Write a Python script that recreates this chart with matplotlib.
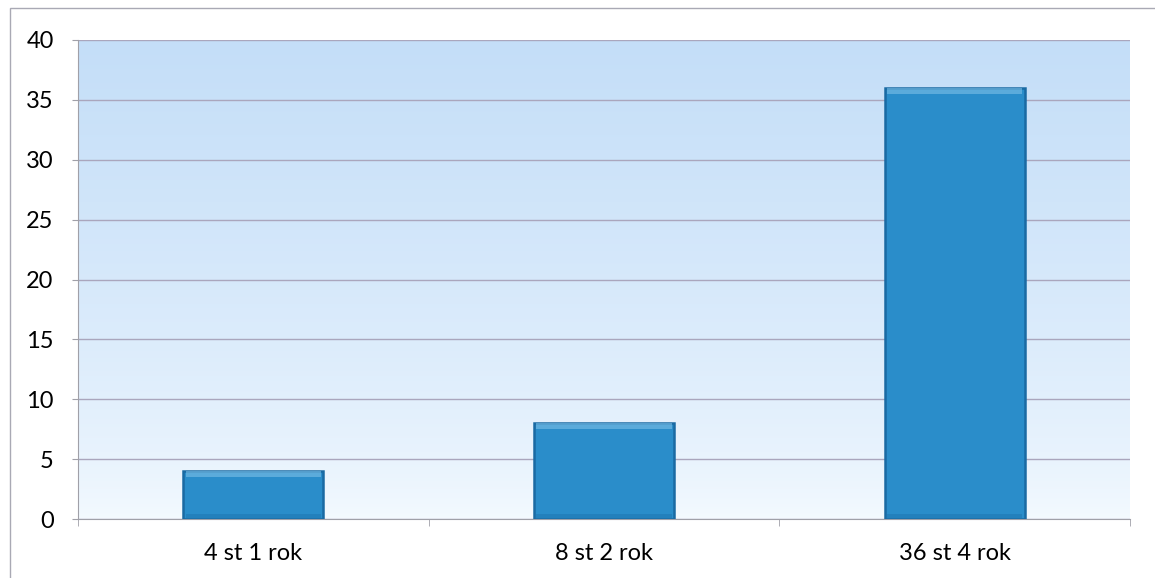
import numpy as np
import matplotlib.pyplot as plt
from matplotlib.patches import Rectangle

plt.rcParams['font.family'] = ['Lato', 'DejaVu Sans']

## Data
categories = ["4 st 1 rok", "8 st 2 rok", "36 st 4 rok"]
counts = [4, 8, 36]
y_ticks = [0, 5, 10, 15, 20, 25, 30, 35, 40]

W, H = 1155, 578
fig = plt.figure(figsize=(W/100, H/100), dpi=100)

# outer chart frame (left and top edges visible)
fig.patches.append(Rectangle((10/W, -0.1), 1.2, 1 - 8/H + 0.1,
                             transform=fig.transFigure, fill=False,
                             edgecolor='#a9a9b4', linewidth=1.0))

ax = fig.add_axes([78/W, 1 - 519/H, (1130 - 78)/W, (519 - 40)/H])

# plot area background: light blue fading to near-white at the bottom
grad = np.linspace(0, 1, 256)[:, None]
top = np.array([196, 222, 248]) / 255
bot = np.array([244, 250, 255]) / 255
img = bot + (top - bot) * grad**0.7
ax.imshow(img[:, None, :], extent=[0, 1, 0, 1], transform=ax.transAxes,
          aspect='auto', origin='lower', zorder=0)

x = np.arange(len(categories))
vals = np.array(counts, dtype=float)
ax.bar(x, vals, width=0.4, color='#2a8dca', edgecolor='#1a6aa3',
       linewidth=1.8, zorder=3)
# bevel: light band along the top, darker band along the bottom
bevel = 0.5
ax.bar(x, bevel, bottom=vals - bevel, width=0.385, color='#7cc0e8',
       alpha=0.6, linewidth=0, zorder=4)
ax.bar(x, bevel * 0.6, bottom=0.1, width=0.385, color='#1f78b4',
       alpha=0.6, linewidth=0, zorder=4)

ax.set_xlim(-0.5, len(categories) - 0.5)
ax.set_ylim(0, 40)
ax.set_yticks(y_ticks)
ax.yaxis.grid(True, color='#aaa6bd', linewidth=1.0, zorder=1)
ax.set_axisbelow(True)

ax.set_xticks(x)
ax.set_xticklabels(categories, fontsize=17)
ax.tick_params(axis='x', length=0, pad=17)
ax.set_xticks(np.arange(len(categories) + 1) - 0.5, minor=True)
ax.tick_params(axis='x', which='minor', length=5, color='#a0a0a8')
ax.tick_params(axis='y', labelsize=17, length=4.5, color='#a0a0a8', pad=13)

for side in ['top', 'right']:
    ax.spines[side].set_visible(False)
for side in ['left', 'bottom']:
    ax.spines[side].set_color('#a0a0a8')

fig.savefig('out.png', dpi=100)
